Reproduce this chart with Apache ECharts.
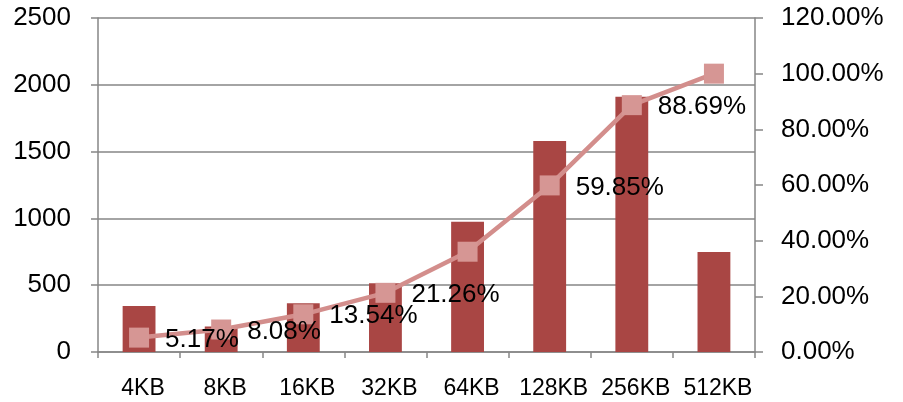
<!DOCTYPE html>
<html>
<head>
<meta charset="utf-8">
<script src="https://cdn.jsdelivr.net/npm/echarts@6/dist/echarts.min.js"></script>
<style>
  html, body { margin: 0; padding: 0; background: #ffffff; }
  #chart { width: 903px; height: 402px; }
</style>
</head>
<body>
<div id="chart"></div>
<script>
// Block sizes on the category axis
const categories = ['4KB', '8KB', '16KB', '32KB', '64KB', '128KB', '256KB', '512KB'];
// Request counts per block size (left axis)
const counts = [344, 190, 364, 514, 975, 1579, 1911, 748];
// Cumulative share in percent (right axis)
const cumulative = [5.17, 8.08, 13.54, 21.26, 36.03, 59.85, 88.69, 100];
// Which cumulative points carry a value label
const showLabel = [true, true, true, true, false, true, true, false];

const FONT = 'Liberation Sans, Arial, sans-serif';
const AXIS_GREY = '#868686';

const chart = echarts.init(document.getElementById('chart'), null, { renderer: 'canvas' });

chart.setOption({
  animation: false,
  backgroundColor: '#ffffff',
  grid: { left: 98, right: 148, top: 18, bottom: 50, containLabel: false },
  xAxis: {
    type: 'category',
    data: categories,
    boundaryGap: true,
    axisLine: { show: true, lineStyle: { color: AXIS_GREY, width: 1.5 } },
    axisTick: { show: true, length: 6, lineStyle: { color: AXIS_GREY, width: 1.5 } },
    axisLabel: {
      interval: 0, color: '#000', fontFamily: FONT, fontSize: 23, margin: 25,
      padding: [0, 0, 0, 8]
    }
  },
  yAxis: [
    {
      type: 'value',
      min: 0, max: 2500, interval: 500,
      position: 'left',
      axisLine: { show: true, lineStyle: { color: AXIS_GREY, width: 1.5 } },
      axisTick: { show: true, length: 7, lineStyle: { color: AXIS_GREY, width: 1.5 } },
      splitLine: { show: true, lineStyle: { color: AXIS_GREY, width: 1.5 } },
      axisLabel: {
        color: '#000', fontFamily: FONT, fontSize: 26, margin: 27,
        formatter: v => String(v)
      }
    },
    {
      type: 'value',
      min: 0, max: 120, interval: 20,
      position: 'right',
      axisLine: { show: true, lineStyle: { color: AXIS_GREY, width: 1.5 } },
      axisTick: { show: true, length: 8, lineStyle: { color: AXIS_GREY, width: 1.5 } },
      splitLine: { show: false },
      axisLabel: {
        color: '#000', fontFamily: FONT, fontSize: 26, margin: 26,
        formatter: v => v.toFixed(2) + '%'
      }
    }
  ],
  series: [
    {
      name: 'count',
      type: 'bar',
      yAxisIndex: 0,
      data: counts,
      barWidth: '40%',
      itemStyle: { color: '#A94644' },
      z: 2
    },
    {
      name: 'cumulative',
      type: 'line',
      yAxisIndex: 1,
      data: cumulative.map((v, i) => ({
        value: v,
        label: { show: showLabel[i] }
      })),
      symbol: 'rect',
      symbolSize: 20,
      lineStyle: { color: '#D38E8C', width: 4.5 },
      itemStyle: { color: '#D69694' },
      label: {
        position: 'right',
        distance: 16,
        color: '#000',
        fontFamily: FONT,
        fontSize: 26,
        offset: [0, 2],
        formatter: p => p.value.toFixed(2) + '%'
      },
      z: 3
    }
  ]
});
</script>
</body>
</html>
